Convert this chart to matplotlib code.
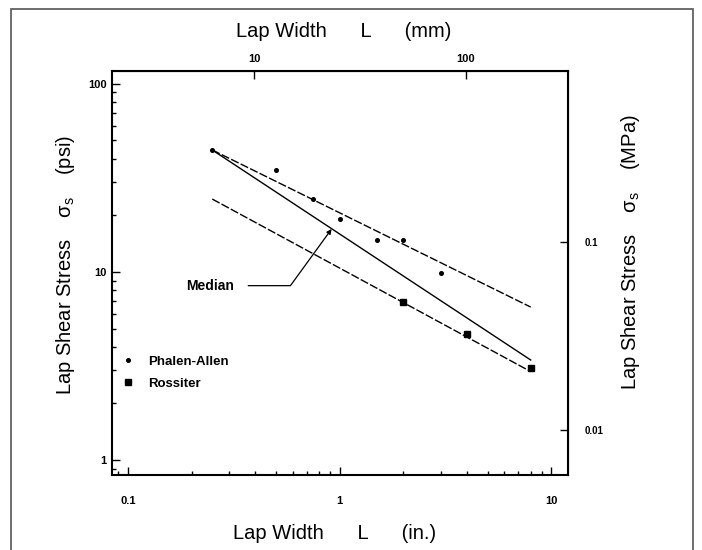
import matplotlib

matplotlib.use("Agg")

import matplotlib.pyplot as plt
from matplotlib.patches import Rectangle

plt.rcParams["font.family"] = ["Liberation Sans", "DejaVu Sans"]
plt.rcParams["mathtext.fontset"] = "custom"
plt.rcParams["mathtext.rm"] = "Liberation Sans"
plt.rcParams["mathtext.it"] = "Liberation Sans"

# dados (largura em polegadas, tensao em psi)
phalen_L = [0.25, 0.5, 0.75, 1.0, 1.5, 2.0, 3.0]
phalen_s = [44.5, 35.0, 24.5, 19.0, 14.7, 14.7, 9.9]
rossiter_L = [2.0, 4.0, 8.0]
rossiter_s = [6.9, 4.7, 3.1]

fit_L = [0.25, 8.0]
fit_phalen = [44.5, 6.5]
fit_median = [44.5, 3.4]
fit_rossiter = [24.4, 2.95]

median_tip = (0.916, 16.9)
median_text = (0.245, 8.45)

PSI_TO_MPA = 0.006895
IN_TO_MM = 25.4

fig = plt.figure(figsize=(7.02, 5.5), dpi=100)
ax = fig.add_axes([112 / 702, 75 / 550, 456 / 702, 404 / 550])

ax.set_xscale("log")
ax.set_yscale("log")
ax.set_xlim(0.084, 12.0)
ax.set_ylim(0.832, 117)

ax.plot(fit_L, fit_phalen, color="black", lw=1.0, ls=(0, (6, 1.6)))
ax.plot(fit_L, fit_median, color="black", lw=1.0)
ax.plot(fit_L, fit_rossiter, color="black", lw=1.0, ls=(0, (6, 1.6)))

ax.plot(phalen_L, phalen_s, ls="none", marker="o", ms=2.6, color="black",
        label="Phalen-Allen")
ax.plot(rossiter_L, rossiter_s, ls="none", marker="s", ms=4.8, color="black",
        label="Rossiter")

ax.annotate(
    "Median", xy=median_tip, xytext=median_text, textcoords="data",
    ha="center", va="center", fontsize=10, fontweight="bold",
    arrowprops=dict(arrowstyle="-|>", color="black", lw=0.9, mutation_scale=7,
                    shrinkA=8, shrinkB=0,
                    connectionstyle="angle,angleA=0,angleB=54,rad=0"),
)

leg = ax.legend(loc="upper left", bbox_to_anchor=(0.0235, 0.296), frameon=False,
                borderpad=0, borderaxespad=0, handlelength=0.8,
                handletextpad=1.1, labelspacing=0.75,
                prop=dict(size=9.5, weight="bold"))

for s in ax.spines.values():
    s.set_linewidth(1.5)

ax.tick_params(which="both", direction="in", top=False, right=False,
               labelsize=8, width=1.0)
ax.tick_params(which="major", length=6)
ax.tick_params(which="minor", length=3)
ax.tick_params(axis="x", which="major", pad=15)
ax.tick_params(axis="y", which="major", pad=4)
ax.set_xticks([0.1, 1, 10])
ax.set_xticklabels(["0.1", "1", "10"])
ax.set_yticks([1, 10, 100])
ax.set_yticklabels(["1", "10", "100"])
for t in ax.get_xticklabels() + ax.get_yticklabels():
    t.set_fontweight("bold")

top = ax.secondary_xaxis("top", functions=(lambda x: x * IN_TO_MM,
                                           lambda x: x / IN_TO_MM))
top.set_xticks([10, 100])
top.set_xticklabels(["10", "100"], fontweight="bold")
top.xaxis.set_minor_locator(matplotlib.ticker.NullLocator())
top.tick_params(direction="in", length=6, width=1.0, labelsize=8, pad=5)

right = ax.secondary_yaxis("right", functions=(lambda y: y * PSI_TO_MPA,
                                               lambda y: y / PSI_TO_MPA))
right.set_yticks([0.01, 0.1])
right.set_yticklabels(["0.01", "0.1"], fontweight="bold")
right.yaxis.set_minor_locator(matplotlib.ticker.NullLocator())
right.tick_params(direction="in", length=6, width=1.0, labelsize=7, pad=12)

lab = dict(transform=ax.transAxes, ha="center", va="center", fontsize=14.5)
ax.text(0.489, -0.1436, "Lap Width      L      (in.)", **lab)
ax.text(0.507, 1.097, "Lap Width      L      (mm)", **lab)
ax.text(-0.103, 0.52, r"Lap Shear Stress    $\sigma_{s}$    (psi)", rotation=90, **lab)
ax.text(1.136, 0.552, r"Lap Shear Stress    $\sigma_{s}$    (MPa)", rotation=90, **lab)

# moldura da pagina digitalizada
fig.patches.append(Rectangle((11 / 702, -0.01), 682 / 702, 1 - 9 / 550 + 0.01,
                             transform=fig.transFigure, fill=False,
                             edgecolor="#555555", lw=1.2))

fig.savefig("out.png", dpi=100)
